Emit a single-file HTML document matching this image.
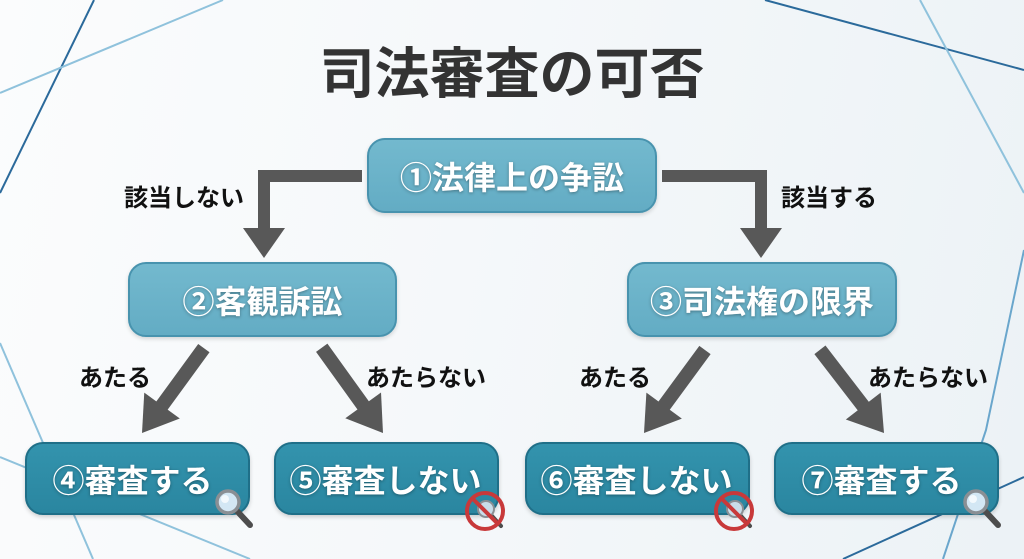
<!DOCTYPE html>
<html><head><meta charset="utf-8">
<style>
html,body{margin:0;padding:0;}
body{width:1024px;height:559px;overflow:hidden;position:relative;
background:linear-gradient(100deg,#fbfcfd 0%,#f5f8fa 45%,#ecf2f6 100%);
font-family:"Liberation Sans","Noto Sans CJK JP",sans-serif;}
.abs{position:absolute;}
.title{left:0;width:1024px;top:42px;text-align:center;font-size:55px;line-height:1;font-weight:bold;color:#333;font-family:"Noto Sans CJK JP",sans-serif;}
.box{position:absolute;box-sizing:border-box;display:flex;align-items:center;justify-content:center;
color:#fff;font-weight:bold;font-size:32px;line-height:1;border-radius:18px;
text-shadow:0 1px 3px rgba(0,0,0,0.35);font-family:"Noto Sans CJK JP",sans-serif;white-space:nowrap;}
.top{background:linear-gradient(#73b9ce,#63acc4);border:2px solid #4893ae;box-shadow:0 2px 4px rgba(0,0,0,0.15);}
.bot{background:linear-gradient(#3393ad,#2a86a0);border:2px solid #1f6f88;box-shadow:0 2px 4px rgba(0,0,0,0.18);}
.lbl{position:absolute;font-size:24px;line-height:1;font-weight:bold;color:#111;font-family:"Noto Sans CJK JP",sans-serif;white-space:nowrap;}
</style></head>
<body>
<svg class="abs" style="left:0;top:0" width="1024" height="559" viewBox="0 0 1024 559">
  <g fill="none" stroke-width="2">
    <line x1="94" y1="0" x2="0" y2="193" stroke="#2b6a9b"/>
    <line x1="223" y1="0" x2="0" y2="93" stroke="#8fc2dc"/>
    <line x1="765" y1="0" x2="1024" y2="70" stroke="#2b6a9b"/>
    <line x1="920" y1="0" x2="1024" y2="193" stroke="#8fc2dc"/>
    <line x1="0" y1="343" x2="93" y2="559" stroke="#8fc2dc"/>
    <line x1="0" y1="457" x2="250" y2="559" stroke="#8fc2dc"/>
    <line x1="843" y1="559" x2="1024" y2="477" stroke="#2b6a9b"/>
    <polyline points="1024,250 986,430 943,559" stroke="#6aa6cc"/>
  </g>
  <g fill="#585858">
    <!-- elbow left -->
    <rect x="258" y="170" width="104" height="12"/>
    <rect x="258" y="170" width="12" height="60"/>
    <polygon points="243,228 285,228 264,258"/>
    <!-- elbow right -->
    <rect x="662" y="170" width="105" height="12"/>
    <rect x="755" y="170" width="12" height="60"/>
    <polygon points="740,228 782,228 761,258"/>
    <!-- diagonal arrows: drawn pointing down with tip at origin -->
    <g transform="translate(142,433) rotate(36.1)">
      <rect x="-7" y="-105" width="14" height="73"/>
      <polygon points="-22,-34 22,-34 0,0"/>
    </g>
    <g transform="translate(383,433) rotate(-35.7)">
      <rect x="-7" y="-105" width="14" height="73"/>
      <polygon points="-22,-34 22,-34 0,0"/>
    </g>
    <g transform="translate(644,433) rotate(36.3)">
      <rect x="-7" y="-103" width="14" height="71"/>
      <polygon points="-22,-34 22,-34 0,0"/>
    </g>
    <g transform="translate(884,433) rotate(-37.6)">
      <rect x="-7" y="-105" width="14" height="73"/>
      <polygon points="-22,-34 22,-34 0,0"/>
    </g>
  </g>
</svg>

<div class="abs title">司法審査の可否</div>

<div class="box top" style="left:367px;top:138px;width:290px;height:75px;">①法律上の争訟</div>
<div class="box top" style="left:128px;top:262px;width:269px;height:75px;">②客観訴訟</div>
<div class="box top" style="left:627px;top:262px;width:270px;height:75px;">③司法権の限界</div>

<div class="box bot" style="left:25px;top:442px;width:225px;height:73px;padding-right:10px;">④審査する</div>
<div class="box bot" style="left:274px;top:442px;width:225px;height:73px;padding-right:2px;">⑤審査しない</div>
<div class="box bot" style="left:525px;top:442px;width:225px;height:73px;padding-right:2px;">⑥審査しない</div>
<div class="box bot" style="left:774px;top:442px;width:225px;height:73px;padding-right:10px;">⑦審査する</div>

<div class="lbl" style="left:124px;top:184px;">該当しない</div>
<div class="lbl" style="left:781px;top:184px;">該当する</div>
<div class="lbl" style="left:79px;top:364px;">あたる</div>
<div class="lbl" style="left:366px;top:364px;">あたらない</div>
<div class="lbl" style="left:579px;top:364px;">あたる</div>
<div class="lbl" style="left:868px;top:364px;">あたらない</div>

<svg class="abs" style="left:0;top:0" width="1024" height="559" viewBox="0 0 1024 559">
  <!-- magnifier box4 -->
  <g>
    <line x1="237" y1="511" x2="250" y2="525" stroke="#4d4d4d" stroke-width="6" stroke-linecap="round"/>
    <circle cx="228" cy="502" r="11" fill="#d3e7f4" stroke="#8a8f94" stroke-width="3.5"/>
    <circle cx="225" cy="499" r="4" fill="#f3f9fd"/>
  </g>
  <!-- magnifier box7 -->
  <g>
    <line x1="985" y1="511" x2="998" y2="525" stroke="#4d4d4d" stroke-width="6" stroke-linecap="round"/>
    <circle cx="976" cy="502" r="11" fill="#d3e7f4" stroke="#8a8f94" stroke-width="3.5"/>
    <circle cx="973" cy="499" r="4" fill="#f3f9fd"/>
  </g>
  <!-- prohibit box5 -->
  <g>
    <line x1="492" y1="516" x2="501" y2="526" stroke="#4d4d4d" stroke-width="4" stroke-linecap="round"/>
    <circle cx="486" cy="509" r="8" fill="#c9dde9" stroke="#8a8f94" stroke-width="2"/>
    <circle cx="485" cy="511" r="18" fill="none" stroke="#c8393a" stroke-width="4"/>
    <line x1="472.5" y1="498.5" x2="497.5" y2="523.5" stroke="#c8393a" stroke-width="4"/>
  </g>
  <!-- prohibit box6 -->
  <g>
    <line x1="741" y1="516" x2="750" y2="526" stroke="#4d4d4d" stroke-width="4" stroke-linecap="round"/>
    <circle cx="735" cy="509" r="8" fill="#c9dde9" stroke="#8a8f94" stroke-width="2"/>
    <circle cx="734" cy="511" r="18" fill="none" stroke="#c8393a" stroke-width="4"/>
    <line x1="721.5" y1="498.5" x2="746.5" y2="523.5" stroke="#c8393a" stroke-width="4"/>
  </g>
</svg>
</body></html>
